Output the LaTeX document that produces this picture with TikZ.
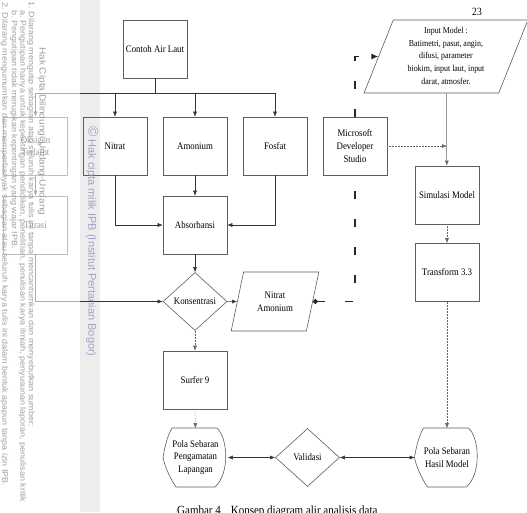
\documentclass[tikz,border=0pt]{standalone}
\usepackage{fontspec}
\setmainfont{Liberation Serif}[FakeStretch=0.88]
\newfontfamily\wmfont{Liberation Sans}[FakeStretch=1.12]
\newfontfamily\wmsans{Liberation Sans}
\usetikzlibrary{arrows.meta,shapes}
\definecolor{boxgray}{HTML}{5E5E5E}
\definecolor{ipbblue}{HTML}{A2A2C8}
\tikzstyle{proc}=[draw=boxgray, line width=0.6pt, minimum width=64pt, minimum height=58pt, inner sep=1pt, align=center, font=\fontsize{10}{12.7}\selectfont]
\tikzstyle{decide}=[proc, diamond, inner sep=0pt]
\tikzstyle{io}=[proc, trapezium, trapezium left angle=70, trapezium right angle=110, trapezium stretches=true, inner sep=0pt]
\tikzstyle{flow}=[->, line width=0.5pt, draw=black!80]
\tikzstyle{dotflow}=[flow, densely dotted, draw=black!60]
\tikzstyle{longdash}=[line width=1.1pt, draw=black!85, dash pattern=on 8pt off 20pt]
\tikzstyle{wm}=[rotate=-90, anchor=west, inner sep=0pt, text=gray!75, font=\wmfont\fontsize{8}{8}\selectfont]
% display symbol round a node
\newcommand{\polashape}[1]{%
  \draw[boxgray, line width=0.6pt, shift={(#1)}] (-23.5,-29.5) -- (21.5,-29.5)
    .. controls (32,-20) and (35,15) .. (19.5,29.5) -- (-19.5,29.5)
    .. controls (-26,20) and (-31,8) .. (-32.5,0)
    .. controls (-31,-10) and (-28,-22) .. (-23.5,-29.5) -- cycle;}

\begin{document}
\begin{tikzpicture}[x=1pt, y=-1pt, >={Latex[length=5pt,width=4pt]}]
  \useasboundingbox (0,0) rectangle (527,512);
  \clip (0,0) rectangle (527,512);
  \fill[gray!14] (80,0) rectangle (100,512);

  % boxes
  \node[proc] (contoh) at (155,49) {Contoh Air Laut};
  \node[proc] (oksigen) at (35.5,146) {Oksigen\\Terlarut};
  \node[proc] (nitrat) at (115,146) {Nitrat};
  \node[proc] (amonium) at (195,146) {Amonium};
  \node[proc] (fosfat) at (275,146) {Fosfat};
  \node[proc] (msd) at (355,146) {Microsoft\\Developer\\Studio};
  \node[proc] (titrasi) at (35.5,225) {Titrasi};
  \node[proc] (absorb) at (195,225) {Absorbansi};
  \node[decide] (kons) at (195,301.5) {Konsentrasi};
  \node[io, minimum width=88pt, minimum height=59pt] (nitam) at (275,301.5) {Nitrat\\Amonium};
  \node[io, minimum width=164pt, minimum height=73pt, font=\fontsize{9}{12.7}\selectfont] (inp) at (446,56.5)
    {Input Model :\\Batimetri, pasut, angin,\\difusi, parameter\\biokim, input laut, input\\darat, atmosfer.};
  \node[proc] (sim) at (447,195) {Simulasi Model};
  \node[proc] (trans) at (447,272.5) {Transform 3.3};
  \node[proc] (surfer) at (195,380) {Surfer 9};
  \node[proc, draw=none] (peng) at (195.5,457.5) {Pola Sebaran\\Pengamatan\\Lapangan};
  \node[decide] (valid) at (307.5,457.5) {Validasi};
  \node[proc, draw=none] (hasil) at (447,457.5) {Pola Sebaran\\Hasil Model};
  \polashape{peng}
  \polashape{hasil}

  % connectors
  \coordinate (bus) at (155,93);
  \draw[flow, -] (contoh) -- (bus);
  \draw[flow, -] (oksigen.north |- bus) -- (fosfat.north |- bus);
  \foreach \n in {oksigen,nitrat,amonium,fosfat}
    \draw[flow] (\n.north |- bus) -- (\n.north);
  \draw[flow] (oksigen) -- (titrasi);
  \draw[flow] (titrasi.south) |- (kons.west);
  \draw[flow] (nitrat.south) |- (absorb.west);
  \draw[flow] (fosfat.south) |- (absorb.east);
  \draw[flow] (amonium) -- (absorb);
  \draw[flow] (absorb) -- (kons);
  \draw[flow] (kons) -- (nitam);
  \draw[dotflow] (kons) -- (surfer);
  \draw[dotflow] (surfer) -- (peng);
  \draw[flow, <->] (peng) -- (valid);
  \draw[flow, <->] (valid) -- (hasil);
  \draw[longdash, {Circle[length=5pt]}-] (nitam.east) -| (msd.south);
  \draw[longdash, -{Latex[length=7pt,width=6pt]}] (msd.north) |- (inp.west);
  \draw[flow, draw=black!60] (inp) -- (sim);
  \draw[dotflow] (msd.east) -- (msd.east -| sim.north);
  \draw[dotflow] (sim) -- (trans);
  \draw[dotflow] (trans) -- (hasil);

  \node (hal) at (477,12) {\fontsize{11}{11}\selectfont 23};
  \node[anchor=base west, inner sep=0pt, font=\fontsize{12.5}{14}\selectfont] (judul) at (177,514)
    {Gambar 4\hspace{10pt}Konsep diagram alir analisis data};

  % watermark strip
  \fill[white, opacity=0.6] (0,0) rectangle (80,512);
  \node[wm, font=\wmfont\fontsize{9}{9}\selectfont] (wm0) at (42,47) {Hak Cipta Dilindungi Undang-Undang};
  \node[wm] (wm1) at (31,1) {1. Dilarang mengutip sebagian atau seluruh karya tulis ini tanpa mencantumkan dan menyebutkan sumber:};
  \node[wm] (wm2) at (22.5,10) {a. Pengutipan hanya untuk kepentingan pendidikan, penelitian, penulisan karya ilmiah, penyusunan laporan, penulisan kritik};
  \node[wm] (wm3) at (14,10) {b. Pengutipan tidak merugikan kepentingan yang wajar IPB.};
  \node[wm] (wm4) at (4.5,2) {2. Dilarang mengumumkan dan memperbanyak sebagian atau seluruh karya tulis ini dalam bentuk apapun tanpa izin IPB.};
  \node[wm, text=ipbblue, font=\wmsans\fontsize{11}{11}\selectfont] (ipb) at (92,126)
    {{\fontsize{14}{14}\selectfont ©} Hak cipta milik IPB (Institut Pertanian Bogor)};
\end{tikzpicture}
\end{document}
